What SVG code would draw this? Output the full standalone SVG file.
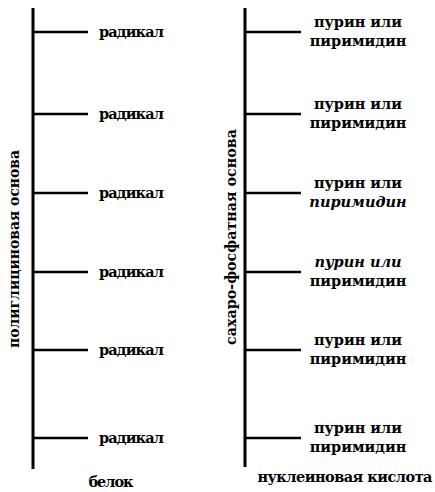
<svg xmlns="http://www.w3.org/2000/svg" width="435" height="492" viewBox="0 0 435 492">
<style>
.spine{stroke:#000;stroke-width:3;fill:none}
.tick{stroke:#000;stroke-width:2.5;fill:none}
text{font-family:'DejaVu Serif','Liberation Serif',serif;font-weight:bold;font-size:14.5px;fill:#000}
.c{text-anchor:middle}
</style>
<rect width="435" height="492" fill="#fff"/>
<g id="connectors">
<line class="spine" x1="33" y1="8" x2="33" y2="469"/>
<line class="tick" x1="33" y1="32" x2="88" y2="32"/>
<line class="tick" x1="33" y1="114" x2="88" y2="114"/>
<line class="tick" x1="33" y1="193" x2="88" y2="193"/>
<line class="tick" x1="33" y1="272" x2="88" y2="272"/>
<line class="tick" x1="33" y1="350" x2="88" y2="350"/>
<line class="tick" x1="33" y1="438" x2="88" y2="438"/>
<line class="spine" x1="245" y1="8" x2="245" y2="467"/>
<line class="tick" x1="245" y1="32" x2="301" y2="32"/>
<line class="tick" x1="245" y1="114" x2="301" y2="114"/>
<line class="tick" x1="245" y1="193" x2="301" y2="193"/>
<line class="tick" x1="245" y1="272" x2="301" y2="272"/>
<line class="tick" x1="245" y1="350" x2="301" y2="350"/>
<line class="tick" x1="245" y1="438" x2="301" y2="438"/>
</g>
<g id="protein-backbone"><text transform="translate(19,249) rotate(-90)" class="c" textLength="198" lengthAdjust="spacingAndGlyphs">полиглициновая основа</text></g>
<g id="nucleic-backbone"><text transform="translate(236,237) rotate(-90)" class="c" textLength="216" lengthAdjust="spacingAndGlyphs">сахаро-фосфатная основа</text></g>
<g id="r1"><text x="99" y="37" textLength="65">радикал</text></g>
<g id="r2"><text x="99" y="119" textLength="65">радикал</text></g>
<g id="r3"><text x="99" y="198" textLength="65">радикал</text></g>
<g id="r4"><text x="99" y="277" textLength="65">радикал</text></g>
<g id="r5"><text x="99" y="355" textLength="65">радикал</text></g>
<g id="r6"><text x="99" y="443" textLength="65">радикал</text></g>
<g id="p1"><text class="c" x="358" y="27">пурин или</text><text class="c" x="358" y="46">пиримидин</text></g>
<g id="p2"><text class="c" x="358" y="109">пурин или</text><text class="c" x="358" y="128">пиримидин</text></g>
<g id="p3"><text class="c" x="358" y="188">пурин или</text><text class="c" x="358" y="207" font-style="italic">пиримидин</text></g>
<g id="p4"><text class="c" x="358" y="267" font-style="italic">пурин или</text><text class="c" x="358" y="286">пиримидин</text></g>
<g id="p5"><text class="c" x="358" y="345">пурин или</text><text class="c" x="358" y="364">пиримидин</text></g>
<g id="p6"><text class="c" x="358" y="433">пурин или</text><text class="c" x="358" y="452">пиримидин</text></g>
<g id="label-protein"><text class="c" x="111" y="487" textLength="45">белок</text></g>
<g id="label-nucleic"><text class="c" x="345" y="482" font-weight="normal" textLength="175">нуклеиновая кислота</text></g>
</svg>
